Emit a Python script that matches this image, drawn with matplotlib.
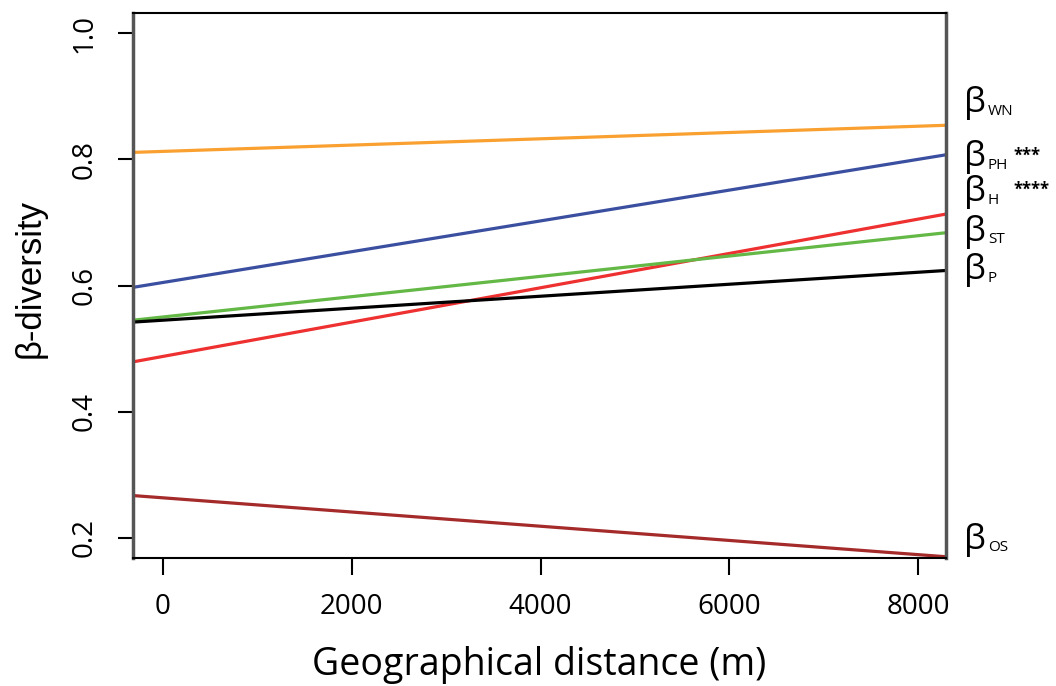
import matplotlib
matplotlib.use("Agg")
import matplotlib.pyplot as plt
from matplotlib.transforms import blended_transform_factory, offset_copy

# fitted lines: intercept and slope (beta-diversity vs distance)
names = ["WN", "PH", "H", "ST", "P", "OS"]
intercepts = [0.8126, 0.6048, 0.4876, 0.5501, 0.5450, 0.2634]
slopes = [4.99e-6, 2.44e-5, 2.72e-5, 1.61e-5, 9.5e-6, -1.126e-5]
colors = ["#F9A030", "#3B4FA0", "#EE3030", "#63B846", "#000000", "#A52A2A"]
label_y = [0.889, 0.803, 0.748, 0.685, 0.624, 0.197]
stars = ["", "***", "****", "", "", ""]

xticks = [0, 2000, 4000, 6000, 8000]
yticks = [0.2, 0.4, 0.6, 0.8, 1.0]

plt.rcParams["font.family"] = ["Open Sans", "DejaVu Sans"]

fig = plt.figure(figsize=(10.56, 6.86), dpi=100)
ax = fig.add_axes([133 / 1056, 1 - 558 / 686, 813 / 1056, 545 / 686])

for a, b, c in zip(intercepts, slopes, colors):
    ax.axline((0, a), slope=b, color=c, lw=2.3)

ax.set_xlim(-318, 8296)
ax.set_ylim(0.168, 1.032)
ax.set_xticks(xticks)
ax.set_xticklabels([str(t) for t in xticks])
ax.set_yticks(yticks)
ax.set_yticklabels(["%.1f" % t for t in yticks])
ax.tick_params(axis="x", direction="out", length=12, width=1.5, pad=13, labelsize=20)
ax.tick_params(axis="y", direction="out", length=11, width=1.5, pad=14, labelsize=20)
for lab in ax.get_yticklabels():
    lab.set_rotation(90)
    lab.set_va("center")

for side in ["top", "bottom"]:
    ax.spines[side].set_color("black")
    ax.spines[side].set_linewidth(1.5)
for side in ["left", "right"]:
    ax.spines[side].set_color("#555555")
    ax.spines[side].set_linewidth(2.5)

fig.text((133 + 946) / 2 / 1056, 1 - 665 / 686, "Geographical distance (m)",
         fontsize=27, ha="center", va="center")
fig.text(30 / 1056, 1 - 278 / 686, "β-diversity", rotation=90, fontsize=25,
         ha="center", va="center", family=["Liberation Sans", "DejaVu Sans"])

trans = blended_transform_factory(ax.transAxes, ax.transData)
for nm, ly, st in zip(names, label_y, stars):
    ax.text(1.022, ly, "β", transform=trans, fontsize=25, ha="left", va="center",
            clip_on=False)
    sub_tr = offset_copy(trans, fig=fig, x=24, y=-8, units="dots")
    ax.text(1.022, ly, nm, transform=sub_tr, fontsize=11, ha="left", va="center",
            clip_on=False)
    if st:
        st_tr = offset_copy(trans, fig=fig, x=50, y=2, units="dots")
        ax.text(1.022, ly, st, transform=st_tr, fontsize=12, fontweight="bold",
                ha="left", va="center", clip_on=False)

fig.savefig("out.png", dpi=100)
